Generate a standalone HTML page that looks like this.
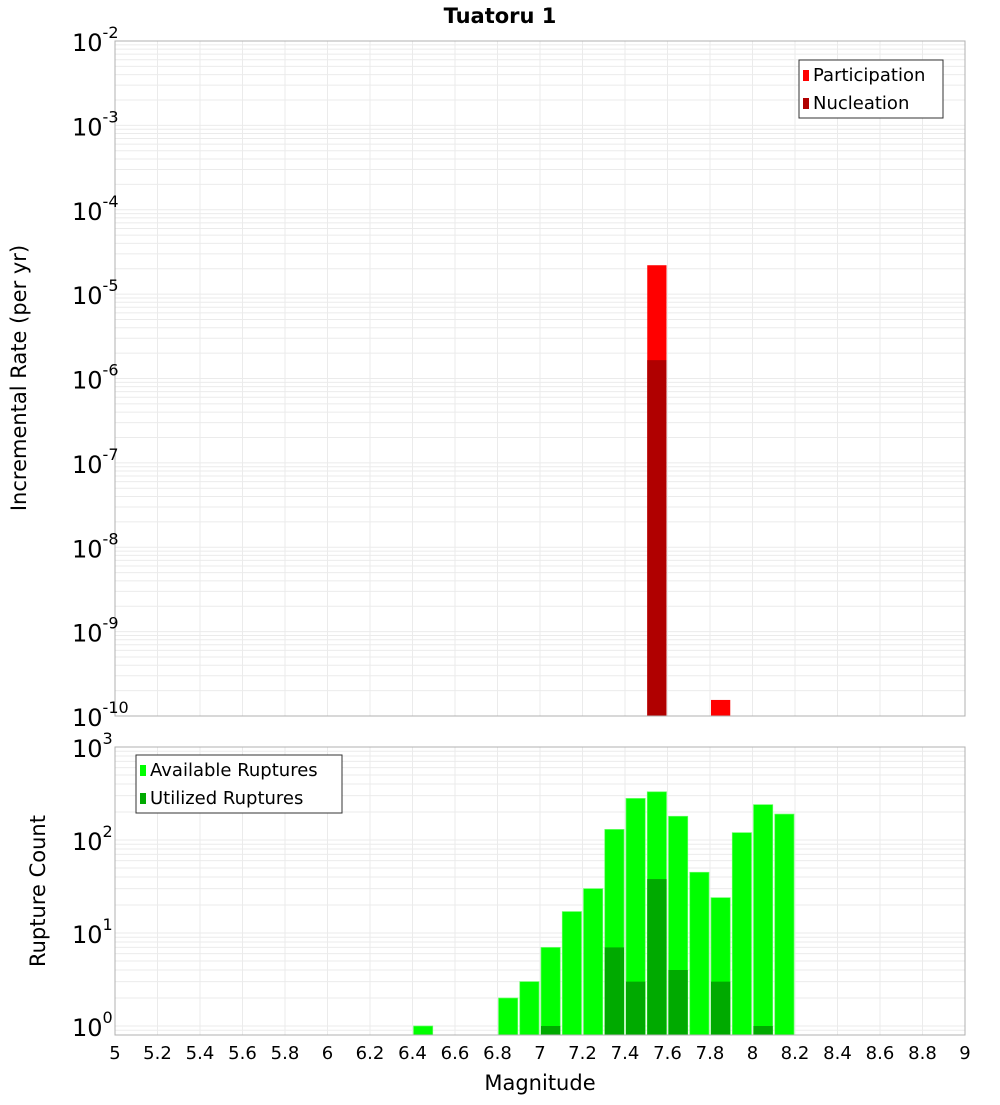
<!DOCTYPE html>
<html><head><meta charset="utf-8"><style>
body{margin:0;background:#fff;font-family:"Liberation Sans","DejaVu Sans",sans-serif}
svg text{font-family:"DejaVu Sans","Liberation Sans",sans-serif}
</style></head><body>
<svg id="c" width="1000" height="1100" xmlns="http://www.w3.org/2000/svg">
<text x="500" y="23" text-anchor="middle" font-size="21" font-weight="bold">Tuatoru 1</text>
<text transform="translate(26,378) rotate(-90)" text-anchor="middle" font-size="21">Incremental Rate (per yr)</text>
<text transform="translate(45,891) rotate(-90)" text-anchor="middle" font-size="21">Rupture Count</text>
<text x="540" y="1090" text-anchor="middle" font-size="21">Magnitude</text>
<g id="g"></g>
</svg>
<script>
const magBins=[6.45,6.85,6.95,7.05,7.15,7.25,7.35,7.45,7.55,7.65,7.75,7.85,7.95,8.05,8.15];
const available=[1,2,3,7,17,30,130,280,330,180,45,24,120,240,190];
const utilized=[0,0,0,1,0,0,7,3,38,4,0,3,0,1,0];
const rateBins=[7.55,7.85];
const participation=[2.2e-5,1.55e-10];
const nucleation=[1.65e-6,0];
const xTicks=["5","5.2","5.4","5.6","5.8","6","6.2","6.4","6.6","6.8","7","7.2","7.4","7.6","7.8","8","8.2","8.4","8.6","8.8","9"];

const NS="http://www.w3.org/2000/svg";
const g=document.getElementById('g');
function mk(t,a,txt){const e=document.createElementNS(NS,t);for(const k in a)e.setAttribute(k,a[k]);if(txt!==undefined)e.textContent=txt;g.appendChild(e);return e;}
const X0=115,X1=965;
const x=m=>X0+(m-5)/4*(X1-X0);
const T={top:41,bot:716,lmin:-10,lmax:-2};
const B={top:747,bot:1035,lmin:Math.log10(0.8),lmax:3+ (747-747)/93};
B.lmax=3;B.lmin=3-(1035-747)/93;
const y=(P,v)=>P.bot-(Math.log10(v)-P.lmin)/(P.lmax-P.lmin)*(P.bot-P.top);

function grid(P,d0,d1){
  for(let d=d0;d<=d1;d++)for(let k=1;k<10;k++){const v=k*Math.pow(10,d);const yy=y(P,v);if(yy<P.top-0.5||yy>P.bot+0.5)continue;
    const l=mk('line',{x1:X0,x2:X1,y1:yy,y2:yy,stroke:'#ebebeb','stroke-width':1});
    
    }
  for(let i=0;i<xTicks.length;i++){const xx=x(+xTicks[i]);
    const l=mk('line',{x1:xx,x2:xx,y1:P.top,y2:P.bot,stroke:'#ebebeb','stroke-width':1});
    
    }
}
grid(T,-10,-2);grid(B,-1,3);

// top bars
rateBins.forEach((m,i)=>{
  const xl=x(m-0.05)+1,w=x(m+0.05)-x(m-0.05)-2;
  if(participation[i]>0){const r=mk('rect',{x:xl,y:y(T,participation[i]),width:w,height:T.bot-y(T,participation[i]),fill:'#ff0000'});
    
    }
  if(nucleation[i]>0){const r=mk('rect',{x:xl,y:y(T,nucleation[i]),width:w,height:T.bot-y(T,nucleation[i]),fill:'#b00000'});
    
    }
});
// bottom bars
magBins.forEach((m,i)=>{
  const xl=x(m-0.05)+1,w=x(m+0.05)-x(m-0.05)-2;
  if(available[i]>0){const r=mk('rect',{x:xl,y:y(B,available[i]),width:w,height:B.bot-y(B,available[i]),fill:'#00ff00',stroke:'#66ff66','stroke-width':0.7});
    
    }
  if(utilized[i]>0){const r=mk('rect',{x:xl,y:y(B,utilized[i]),width:w,height:B.bot-y(B,utilized[i]),fill:'#00aa00'});
    
    }
});
// frames
[T,B].forEach(P=>{const r=mk('rect',{x:X0,y:P.top,width:X1-X0,height:P.bot-P.top,fill:'none',stroke:'#b0b0b0','stroke-width':1});
  
  });
// y labels
function ylab(P,d0,d1,name){for(let d=d0;d<=d1;d++){const yy=y(P,Math.pow(10,d));
  const t=mk('text',{x:72,y:yy+10,'font-size':24});
  
  
  t.innerHTML='10<tspan dy="-13" font-size="16">'+d+'</tspan>';}}
ylab(T,-10,-2,'top-y-tick-label');ylab(B,0,3,'bottom-y-tick-label');
// x labels
xTicks.forEach(s=>{const t=mk('text',{x:x(+s),y:1059,'text-anchor':'middle','font-size':18},s);
  
  });
// legends
function legend(lx,ly,w,items,name){const r=mk('rect',{x:lx,y:ly,width:w,height:58,fill:'#fff',stroke:'#333','stroke-width':1});
  
  
  items.forEach((it,i)=>{const s=mk('rect',{x:lx+4,y:ly+10+i*28,width:6,height:11,fill:it[1]});
    
    
    const t=mk('text',{x:lx+14,y:ly+21+i*28,'font-size':18},it[0]);
    
    });}
legend(799,60,144,[['Participation','#ff0000'],['Nucleation','#b00000']],'top-legend');
legend(136,755,206,[['Available Ruptures','#00ff00'],['Utilized Ruptures','#00aa00']],'bottom-legend');
</script>
</body></html>
